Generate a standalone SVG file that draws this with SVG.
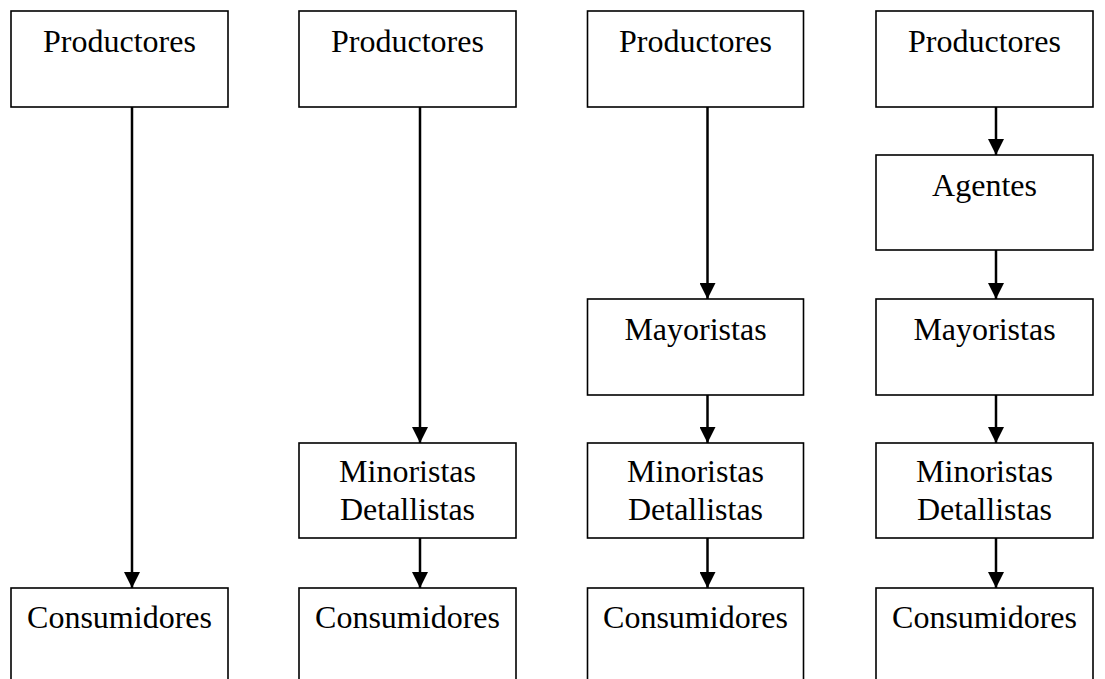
<svg xmlns="http://www.w3.org/2000/svg" width="1105" height="679" viewBox="0 0 1105 679">
<style>
.box{fill:#fff;stroke:#000;stroke-width:1.6}
.t{font-family:"Liberation Serif","Times New Roman",serif;font-size:32px;fill:#000;text-anchor:middle}
.c{stroke:#000;stroke-width:2.5;fill:none}
</style>
<defs>
<marker id="ah" markerWidth="16" markerHeight="16" viewBox="0 0 16 16" refX="16" refY="8" orient="auto" markerUnits="userSpaceOnUse">
<path d="M0,0 L16,8 L0,16 Z" fill="#000"/>
</marker>
</defs>
<rect width="1105" height="679" fill="#fff"/>
<g id="connectors">
<line class="c" x1="132" y1="107" x2="132" y2="588" marker-end="url(#ah)"/>
<line class="c" x1="420" y1="107" x2="420" y2="443" marker-end="url(#ah)"/>
<line class="c" x1="420" y1="538" x2="420" y2="588" marker-end="url(#ah)"/>
<line class="c" x1="707.5" y1="107" x2="707.5" y2="299" marker-end="url(#ah)"/>
<line class="c" x1="707.5" y1="395" x2="707.5" y2="443" marker-end="url(#ah)"/>
<line class="c" x1="707.5" y1="538" x2="707.5" y2="588" marker-end="url(#ah)"/>
<line class="c" x1="996" y1="107" x2="996" y2="155" marker-end="url(#ah)"/>
<line class="c" x1="996" y1="250" x2="996" y2="299" marker-end="url(#ah)"/>
<line class="c" x1="996" y1="395" x2="996" y2="443" marker-end="url(#ah)"/>
<line class="c" x1="996" y1="538" x2="996" y2="588" marker-end="url(#ah)"/>
</g>
<g id="c1-productores"><rect class="box" x="11" y="11" width="217" height="96"/><text class="t" x="119.5" y="52">Productores</text></g>
<g id="c1-consumidores"><rect class="box" x="11" y="588" width="217" height="100"/><text class="t" x="119.5" y="628">Consumidores</text></g>
<g id="c2-productores"><rect class="box" x="299" y="11" width="217" height="96"/><text class="t" x="407.5" y="52">Productores</text></g>
<g id="c2-minoristas"><rect class="box" x="299" y="443" width="217" height="95"/><text class="t" x="407.5" y="482">Minoristas</text><text class="t" x="407.5" y="520">Detallistas</text></g>
<g id="c2-consumidores"><rect class="box" x="299" y="588" width="217" height="100"/><text class="t" x="407.5" y="628">Consumidores</text></g>
<g id="c3-productores"><rect class="box" x="587.5" y="11" width="216" height="96"/><text class="t" x="695.5" y="52">Productores</text></g>
<g id="c3-mayoristas"><rect class="box" x="587.5" y="299" width="216" height="96"/><text class="t" x="695.5" y="340">Mayoristas</text></g>
<g id="c3-minoristas"><rect class="box" x="587.5" y="443" width="216" height="95"/><text class="t" x="695.5" y="482">Minoristas</text><text class="t" x="695.5" y="520">Detallistas</text></g>
<g id="c3-consumidores"><rect class="box" x="587.5" y="588" width="216" height="100"/><text class="t" x="695.5" y="628">Consumidores</text></g>
<g id="c4-productores"><rect class="box" x="876" y="11" width="217" height="96"/><text class="t" x="984.5" y="52">Productores</text></g>
<g id="c4-agentes"><rect class="box" x="876" y="155" width="217" height="95"/><text class="t" x="984.5" y="196">Agentes</text></g>
<g id="c4-mayoristas"><rect class="box" x="876" y="299" width="217" height="96"/><text class="t" x="984.5" y="340">Mayoristas</text></g>
<g id="c4-minoristas"><rect class="box" x="876" y="443" width="217" height="95"/><text class="t" x="984.5" y="482">Minoristas</text><text class="t" x="984.5" y="520">Detallistas</text></g>
<g id="c4-consumidores"><rect class="box" x="876" y="588" width="217" height="100"/><text class="t" x="984.5" y="628">Consumidores</text></g>
</svg>
